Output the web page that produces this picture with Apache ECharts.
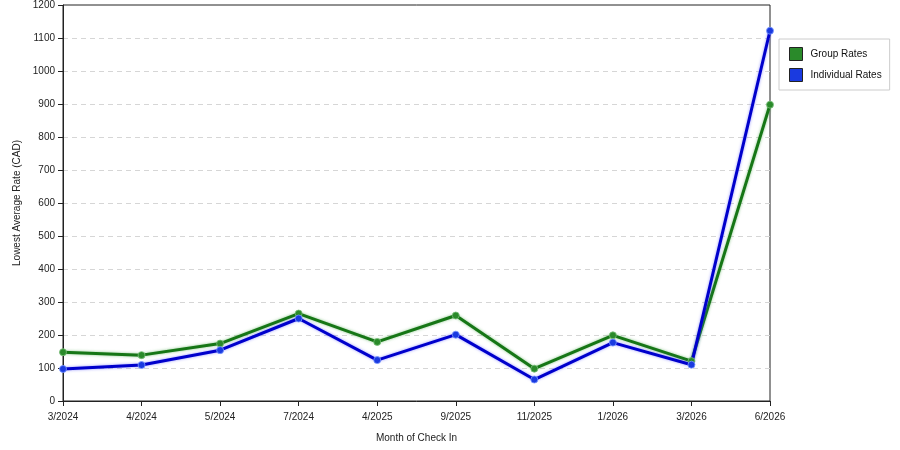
<!DOCTYPE html>
<html>
<head>
<meta charset="utf-8">
<script src="https://cdn.jsdelivr.net/npm/echarts@6/dist/echarts.min.js"></script>
<style>
html,body{margin:0;padding:0;background:#fff;}
#chart{width:900px;height:450px;}
</style>
</head>
<body>
<div id="chart"></div>
<script type="text/javascript">
// months on x axis
var months = ['3/2024','4/2024','5/2024','7/2024','4/2025','9/2025','11/2025','1/2026','3/2026','6/2026'];
// lowest average rate (CAD)
var groupRates = [148, 139, 174, 265, 179, 259, 98, 199, 121, 898];
var individualRates = [97, 109, 154, 250, 124, 201, 65, 177, 110, 1122];

var txt = {fontFamily:'Liberation Sans', fontSize:10, color:'#222'};

var chart = echarts.init(document.getElementById('chart'));
var option = {
    animation: false,
    grid: {left:63, right:130, top:5, bottom:49, show:true, borderColor:'#222', borderWidth:1, backgroundColor:'transparent'},
    legend: {
        orient: 'vertical',
        left: 779, top: 39,
        padding: [8, 8, 8, 10],
        itemGap: 7,
        itemWidth: 13, itemHeight: 13,
        icon: 'rect',
        borderColor: '#ccc', borderWidth: 1,
        backgroundColor: '#fff',
        itemStyle: {borderColor:'#222', borderWidth:1},
        textStyle: {fontFamily:'Liberation Sans', fontSize:10, color:'#111', padding:[0,0,0,3]},
        data: ['Group Rates', 'Individual Rates']
    },
    xAxis: {
        type: 'category',
        data: months,
        boundaryGap: false,
        name: 'Month of Check In',
        nameLocation: 'middle',
        nameGap: 32,
        nameTextStyle: txt,
        axisLine: {lineStyle:{color:'#222'}},
        axisTick: {show:true, length:5, interval:0, lineStyle:{color:'#222'}},
        axisLabel: {interval:0, margin:11, fontFamily:'Liberation Sans', fontSize:10, color:'#222'},
        splitLine: {show:false}
    },
    yAxis: {
        type: 'value',
        min: 0, max: 1200, interval: 100,
        name: 'Lowest Average Rate (CAD)',
        nameLocation: 'middle',
        nameGap: 40,
        nameTextStyle: txt,
        axisLine: {show:true, lineStyle:{color:'#222'}},
        axisTick: {show:true, length:5, lineStyle:{color:'#222'}},
        axisLabel: {margin:8, fontFamily:'Liberation Sans', fontSize:10, color:'#222', formatter: function (v) { return String(v); }},
        splitLine: {show:true, showMinLine:false, showMaxLine:false, lineStyle:{color:'#d6d6d6', type:[5,4]}}
    },
    series: [
        {
            name: 'Group Rates',
            type: 'line',
            data: groupRates,
            color: '#117711',
            symbol: 'circle',
            symbolSize: 7,
            lineStyle: {width:3, color:'#167616', shadowBlur:3, shadowColor:'rgba(60,160,60,0.6)'},
            itemStyle: {color:'#2a8a2a', borderColor:'rgba(120,190,120,0.8)', borderWidth:1}
        },
        {
            name: 'Individual Rates',
            type: 'line',
            data: individualRates,
            color: '#0000dd',
            symbol: 'circle',
            symbolSize: 7,
            lineStyle: {width:3, color:'#0000cc', shadowBlur:3, shadowColor:'rgba(80,80,255,0.6)'},
            itemStyle: {color:'#1a3ae0', borderColor:'rgba(120,150,255,0.8)', borderWidth:1}
        }
    ]
};
chart.setOption(option);
</script>
</body>
</html>
